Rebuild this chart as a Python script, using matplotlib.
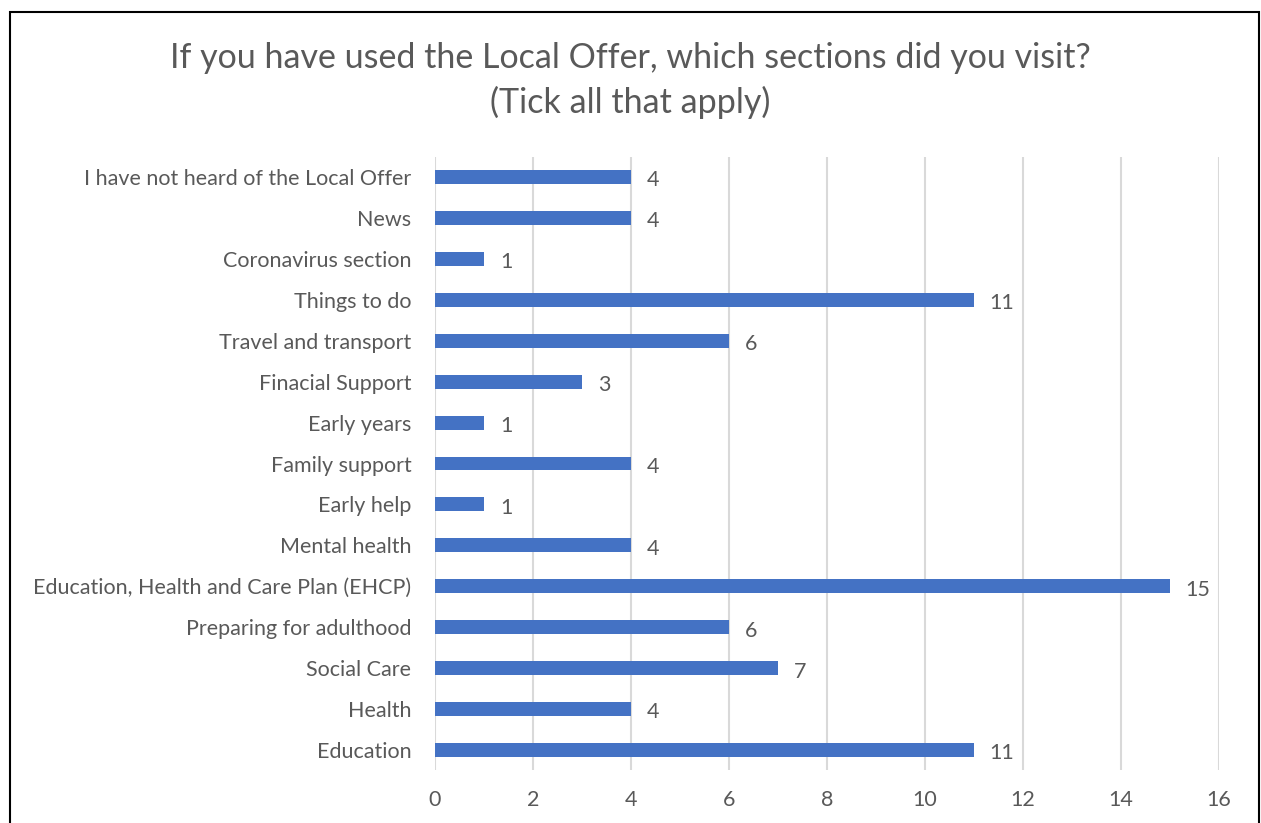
import matplotlib
matplotlib.use("Agg")
import matplotlib.pyplot as plt
from matplotlib.patches import Rectangle

plt.rcParams['font.family'] = ['Lato', 'DejaVu Sans']

# 数据
categories = [
    "Education",
    "Health",
    "Social Care",
    "Preparing for adulthood",
    "Education, Health and Care Plan (EHCP)",
    "Mental health",
    "Early help",
    "Family support",
    "Early years",
    "Finacial Support",
    "Travel and transport",
    "Things to do",
    "Coronavirus section",
    "News",
    "I have not heard of the Local Offer",
]
counts = [11, 4, 7, 6, 15, 4, 1, 4, 1, 3, 6, 11, 1, 4, 4]
x_ticks = [0, 2, 4, 6, 8, 10, 12, 14, 16]

title = "If you have used the Local Offer, which sections did you visit?\n(Tick all that apply)"
text_color = "#595959"
bar_color = "#4472C4"

fig = plt.figure(figsize=(12.61, 8.23), dpi=100)
ax = fig.add_axes([0.345, 0.0638, 0.6214, 0.746])

ypos = list(range(len(categories)))
bars = ax.barh(ypos, counts, height=0.34, color=bar_color, zorder=3)

for y, v in zip(ypos, counts):
    ax.annotate(str(v), (v, y), xytext=(11.5, -1), textcoords="offset points",
                va="center_baseline", ha="left", fontsize=15.5, color=text_color)

ax.set_xlim(0, 16)
ax.set_ylim(-0.5, len(categories) - 0.5)
ax.set_xticks(x_ticks)
ax.set_yticks(ypos)
ax.set_yticklabels(categories)
ax.tick_params(axis="both", length=0, labelsize=15.5, colors=text_color)
ax.tick_params(axis="x", pad=14)
ax.tick_params(axis="y", pad=17)
ax.grid(axis="x", color="#D9D9D9", linewidth=1.5, zorder=0)
for s in ax.spines.values():
    s.set_visible(False)

fig.text(0.5, 0.902, title, ha="center", va="center", fontsize=24.5,
         color=text_color, linespacing=1.45)

# 外框
fig.patches.append(Rectangle((10 / 1261, -0.1), 1249 / 1261, 1.1 - 12 / 823,
                             transform=fig.transFigure, fill=False,
                             edgecolor="black", linewidth=1.5))

fig.savefig("out.png", dpi=100)
